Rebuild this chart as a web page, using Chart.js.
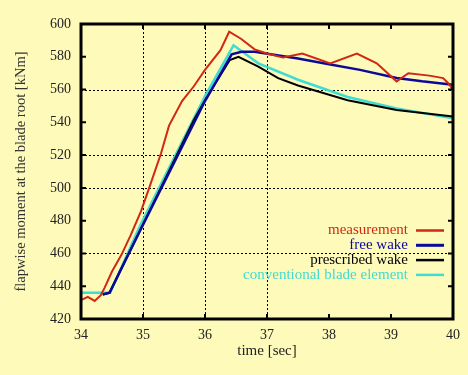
<!DOCTYPE html>
<html>
<head>
<meta charset="utf-8">
<script src="https://cdn.jsdelivr.net/npm/chart.js@4"></script>
<style>
  body { margin: 0; background: #fefab9; }
  canvas { display: block; }
</style>
</head>
<body>
<canvas id="chart" width="468" height="375"></canvas>
<script>
// time [sec] / moment [kNm]
let measTime = [34, 34.11, 34.22, 34.32, 34.38, 34.5, 34.65, 34.8, 34.97, 35.1, 35.29, 35.42, 35.63, 35.82, 36.0, 36.25, 36.39, 36.58, 36.8, 37.0, 37.26, 37.57, 38.02, 38.45, 38.77, 39.09, 39.28, 39.62, 39.84, 39.92, 40];
let measValue = [431.5, 433.5, 431, 434.5, 439, 449, 459, 471, 486, 500, 521, 538, 553, 562, 572, 584, 595.3, 591, 584.5, 582, 579.5, 582, 576, 582, 576, 565, 570, 568.5, 567, 564, 560];

let freeTime = [34.35, 34.46, 34.94, 36.0, 36.43, 36.59, 36.8, 37.5, 38.0, 38.5, 39.09, 39.5, 40];
let freeValue = [435, 436, 473, 553, 581.5, 583, 583, 579, 575.5, 572, 567, 565, 563];

let prescTime = [34.35, 34.46, 34.94, 35.82, 36.0, 36.4, 36.54, 36.86, 37.18, 37.5, 38.3, 39.09, 40];
let prescValue = [435, 436, 473, 541.5, 553.5, 578, 580, 574, 567, 562.5, 553.5, 547.5, 543.5];

let convTime = [34, 34.47, 34.94, 36.0, 36.46, 36.86, 37.5, 38.3, 39.09, 40];
let convValue = [436, 436, 476, 556, 587, 576, 566, 555.5, 548.5, 542.5];

let seriesNames = ['measurement', 'free wake', 'prescribed wake', 'conventional blade element'];
let seriesColors = ['#d02814', '#0a0a9a', '#000000', '#3fdcd4'];

// grid lines that show in the picture
let gridX = [35, 36, 37];
let gridY = [560, 520, 500, 460];

function points(t, v) {
    return t.map(function (x, i) { return { x: x, y: v[i] }; });
}

let serif = '"Liberation Serif", "DejaVu Serif", serif';

// dotted grid behind the lines
let dottedGrid = {
    id: 'dottedGrid',
    beforeDatasetsDraw: function (chart) {
        let ctx = chart.ctx;
        let a = chart.chartArea;
        ctx.save();
        ctx.strokeStyle = '#000';
        ctx.lineWidth = 1;
        ctx.setLineDash([2, 2]);
        gridX.forEach(function (v) {
            let px = Math.round(chart.scales.x.getPixelForValue(v)) + 0.5;
            ctx.beginPath();
            ctx.moveTo(px, a.top); ctx.lineTo(px, a.bottom);
            ctx.stroke();
        });
        gridY.forEach(function (v) {
            let py = Math.round(chart.scales.y.getPixelForValue(v)) + 0.5;
            ctx.beginPath();
            ctx.moveTo(a.left, py); ctx.lineTo(a.right, py);
            ctx.stroke();
        });
        ctx.restore();
    }
};

// box, inward ticks and the legend in the lower right corner
let frame = {
    id: 'frame',
    afterDatasetsDraw: function (chart) {
        let ctx = chart.ctx;
        let a = chart.chartArea;
        let xs = chart.scales.x;
        let ys = chart.scales.y;
        ctx.save();
        ctx.strokeStyle = '#000';
        ctx.lineWidth = 2;
        xs.ticks.forEach(function (t) {
            let px = xs.getPixelForValue(t.value);
            ctx.beginPath();
            ctx.moveTo(px, a.bottom); ctx.lineTo(px, a.bottom - 5);
            ctx.moveTo(px, a.top); ctx.lineTo(px, a.top + 5);
            ctx.stroke();
        });
        ys.ticks.forEach(function (t) {
            let py = ys.getPixelForValue(t.value);
            ctx.beginPath();
            ctx.moveTo(a.left, py); ctx.lineTo(a.left + 5, py);
            ctx.moveTo(a.right, py); ctx.lineTo(a.right - 5, py);
            ctx.stroke();
        });
        ctx.lineWidth = 3;
        ctx.strokeRect(a.left, a.top, a.right - a.left, a.bottom - a.top);

        ctx.font = '15px ' + serif;
        ctx.textAlign = 'right';
        ctx.textBaseline = 'middle';
        seriesNames.forEach(function (name, i) {
            let y = a.bottom - 88.5 + i * 14.8;
            ctx.fillStyle = seriesColors[i];
            ctx.fillText(name, a.right - 45, y);
            ctx.strokeStyle = seriesColors[i];
            ctx.lineWidth = i === 1 ? 3 : 2.5;
            ctx.beginPath();
            ctx.moveTo(a.right - 37, y);
            ctx.lineTo(a.right - 9, y);
            ctx.stroke();
        });
        ctx.restore();
    }
};

let canvas = document.getElementById('chart').getContext('2d');
new Chart(canvas, {
    type: 'line',
    data: {
        datasets: [
            { label: seriesNames[0], data: points(measTime, measValue), borderColor: seriesColors[0], borderWidth: 2 },
            { label: seriesNames[1], data: points(freeTime, freeValue), borderColor: seriesColors[1], borderWidth: 2.5 },
            { label: seriesNames[2], data: points(prescTime, prescValue), borderColor: seriesColors[2], borderWidth: 2 },
            { label: seriesNames[3], data: points(convTime, convValue), borderColor: seriesColors[3], borderWidth: 2.5 }
        ]
    },
    options: {
        responsive: false,
        animation: false,
        devicePixelRatio: 1,
        layout: { padding: { left: 0, top: 24, right: 11, bottom: 0 } },
        elements: { point: { radius: 0 }, line: { tension: 0 } },
        plugins: { legend: { display: false }, tooltip: { enabled: false } },
        scales: {
            x: {
                type: 'linear',
                min: 34,
                max: 40,
                afterFit: function (s) { s.height = 56; },
                ticks: { stepSize: 1, padding: 8, color: '#222', font: { family: serif, size: 14 } },
                grid: { display: false, drawTicks: false },
                border: { display: false },
                title: { display: true, text: 'time [sec]', color: '#222', font: { family: serif, size: 15 }, padding: { top: 0, bottom: 15 } }
            },
            y: {
                min: 420,
                max: 600,
                afterFit: function (s) { s.width = 81; },
                ticks: { stepSize: 20, padding: 10, color: '#222', font: { family: serif, size: 14 } },
                grid: { display: false, drawTicks: false },
                border: { display: false },
                title: { display: true, text: 'flapwise moment at the blade root [kNm]', color: '#333', font: { family: serif, size: 14.5 }, padding: { top: 12, bottom: 0 } }
            }
        }
    },
    plugins: [dottedGrid, frame]
});
</script>
</body>
</html>
